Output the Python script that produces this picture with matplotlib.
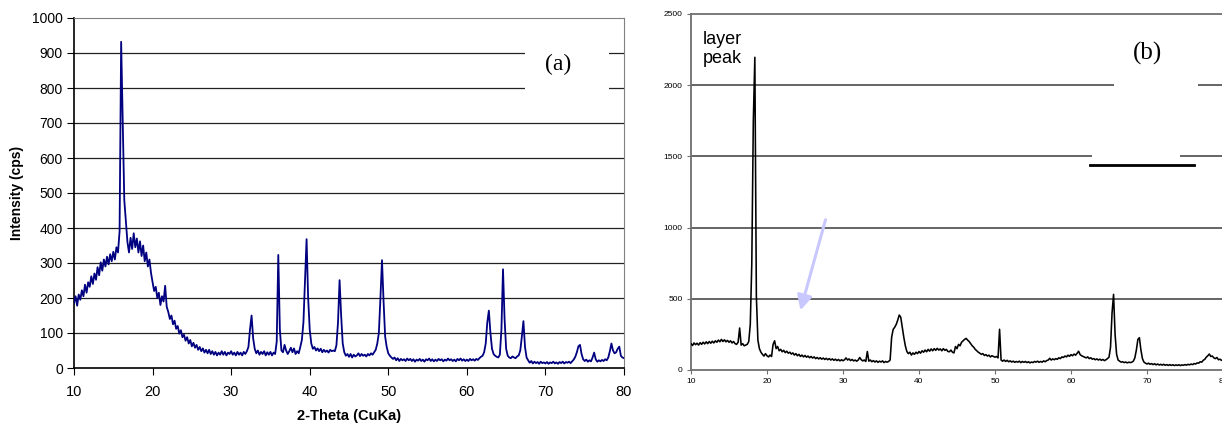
import matplotlib
matplotlib.use("Agg")
import matplotlib.pyplot as plt
import numpy as np
from matplotlib.patches import Rectangle

# scan grid: 10-80 deg 2-theta, step 0.2 deg (351 points)
theta = np.linspace(10, 80, 351)

# (a) intensity, cps  -- five values per degree
counts_a = [
    185, 205, 178, 210, 195, 222, 205, 238, 215, 245,   # 10-11
    232, 262, 240, 270, 252, 288, 265, 302, 278, 310,   # 12-13
    290, 318, 296, 325, 305, 332, 310, 345, 330, 390,   # 14-15
    932, 700, 480, 420, 360, 330, 372, 340, 385, 345,   # 16-17
    370, 330, 362, 320, 350, 305, 330, 290, 310, 272,   # 18-19
    245, 220, 232, 200, 215, 180, 205, 190, 235, 175,   # 20-21
    160, 140, 150, 125, 135, 112, 120, 98, 108, 88,     # 22-23
    95, 78, 88, 70, 80, 62, 72, 58, 66, 52,             # 24-25
    60, 48, 56, 44, 52, 42, 52, 40, 48, 38,             # 26-27
    46, 36, 44, 38, 48, 38, 46, 36, 44, 40,             # 28-29
    48, 38, 44, 36, 46, 38, 44, 36, 46, 40,             # 30-31
    48, 60, 110, 150, 85, 55, 42, 50, 38, 46,           # 32-33
    40, 48, 36, 45, 38, 46, 36, 44, 40, 75,             # 34-35
    323, 110, 50, 45, 66, 50, 40, 48, 58, 45,           # 36-37
    56, 40, 48, 42, 60, 80, 130, 250, 368, 200,         # 38-39
    110, 70, 55, 60, 50, 56, 48, 55, 45, 52,            # 40-41
    46, 50, 44, 52, 48, 50, 48, 65, 130, 251,           # 42-43
    150, 70, 45, 35, 40, 32, 40, 30, 38, 33,            # 44-45
    36, 42, 34, 40, 35, 38, 33, 40, 36, 42,             # 46-47
    38, 45, 52, 70, 100, 200, 308, 190, 90, 60,         # 48-49
    42, 35, 30, 26, 30, 22, 28, 20, 26, 22,             # 50-51
    25, 20, 27, 22, 26, 20, 25, 18, 24, 21,             # 52-53
    26, 20, 24, 18, 25, 22, 27, 20, 25, 19,             # 54-55
    24, 20, 26, 22, 25, 19, 24, 21, 27, 22,             # 56-57
    25, 20, 24, 19, 26, 22, 27, 21, 25, 20,             # 58-59
    24, 20, 26, 22, 25, 21, 26, 23, 28, 32,             # 60-61
    35, 45, 70, 130, 164, 100, 55, 40, 35, 32,          # 62-63
    30, 38, 110, 282, 140, 55, 35, 30, 28, 33,          # 64-65
    30, 28, 33, 36, 50, 90, 134, 60, 30, 22,            # 66-67
    15, 20, 13, 18, 14, 17, 12, 18, 14, 16,             # 68-69
    13, 17, 12, 16, 14, 18, 13, 16, 12, 17,             # 70-71
    14, 18, 13, 17, 15, 18, 14, 19, 24, 32,             # 72-73
    45, 62, 66, 40, 25, 20, 24, 18, 22, 19,             # 74-75
    30, 44, 25, 18, 22, 19, 23, 20, 25, 22,             # 76-77
    30, 48, 70, 50, 42, 45, 55, 61, 35, 30,             # 78-79
    28,
]

# (b) intensity -- same grid
counts_b = [
    185, 172, 190, 178, 188, 175, 192, 180, 195, 183,   # 10-11
    198, 185, 200, 188, 202, 190, 205, 195, 210, 198,   # 12-13
    215, 200, 212, 198, 208, 195, 205, 190, 200, 185,   # 14-15
    180, 195, 295, 175, 185, 170, 175, 180, 200, 320,   # 16-17
    750, 1750, 2196, 520, 210, 150, 125, 110, 98, 115,  # 18-19
    100, 92, 105, 95, 180, 205, 150, 165, 135, 145,     # 20-21
    128, 138, 122, 132, 118, 125, 112, 120, 105, 115,   # 22-23
    100, 110, 95, 105, 92, 102, 90, 98, 86, 95,         # 24-25
    84, 92, 80, 88, 78, 86, 76, 84, 74, 82,             # 26-27
    72, 80, 70, 78, 68, 76, 66, 74, 64, 72,             # 28-29
    65, 72, 85, 70, 78, 66, 74, 64, 70, 62,             # 30-31
    70, 88, 72, 64, 70, 60, 130, 62, 70, 58,            # 32-33
    66, 56, 64, 54, 62, 56, 64, 52, 60, 55,             # 34-35
    60, 70, 230, 285, 300, 320, 350, 386, 370, 300,     # 36-37
    230, 170, 130, 115, 125, 105, 120, 110, 125, 115,   # 38-39
    130, 118, 135, 125, 140, 128, 145, 132, 148, 135,   # 40-41
    150, 138, 152, 140, 148, 135, 150, 138, 145, 130,   # 42-43
    128, 140, 125, 120, 165, 150, 180, 170, 195, 205,   # 44-45
    215, 222, 210, 200, 185, 170, 160, 145, 135, 125,   # 46-47
    118, 110, 115, 102, 108, 98, 104, 92, 100, 95,      # 48-49
    90, 95, 85, 286, 70, 62, 70, 60, 68, 58,            # 50-51
    64, 56, 62, 54, 60, 55, 62, 52, 60, 54,             # 52-53
    60, 52, 58, 50, 56, 52, 60, 55, 62, 54,             # 54-55
    60, 55, 64, 58, 66, 70, 82, 70, 78, 72,             # 56-57
    80, 75, 86, 80, 92, 88, 98, 92, 104, 96,            # 58-59
    108, 100, 112, 104, 117, 132, 108, 100, 95, 90,     # 60-61
    85, 92, 80, 86, 76, 80, 72, 78, 70, 76,             # 62-63
    68, 74, 66, 72, 80, 90, 160, 400, 531, 250,         # 64-65
    110, 70, 62, 55, 58, 52, 56, 50, 55, 52,            # 66-67
    55, 62, 85, 140, 215, 227, 140, 80, 55, 48,         # 68-69
    42, 48, 40, 45, 38, 44, 36, 42, 35, 40,             # 70-71
    34, 40, 33, 38, 32, 38, 32, 37, 31, 36,             # 72-73
    32, 37, 31, 36, 33, 38, 34, 40, 36, 42,             # 74-75
    38, 45, 42, 50, 48, 58, 55, 68, 75, 90,             # 76-77
    100, 112, 95, 98, 85, 80, 88, 72, 76, 68,           # 78-79
    70,
]

x_ticks = [10, 20, 30, 40, 50, 60, 70, 80]
y_ticks_a = list(range(0, 1001, 100))
y_ticks_b = list(range(0, 2501, 500))

fig = plt.figure(figsize=(12.22, 4.25), dpi=100)
plt.rcParams["font.family"] = ["Liberation Sans", "DejaVu Sans"]

# ---- panel (a) ----
ax1 = fig.add_axes([74 / 1222, 57 / 425, 550 / 1222, 350 / 425])
ax1.plot(theta, counts_a, color="#000080", linewidth=1.3, zorder=3)
ax1.set_xlim(10, 80)
ax1.set_ylim(0, 1000)
ax1.set_xticks(x_ticks)
ax1.set_yticks(y_ticks_a)
for v in y_ticks_a[1:-1]:
    ax1.axhline(v, color="#222222", linewidth=0.9, zorder=1)
ax1.spines["top"].set_color("#808080")
ax1.spines["right"].set_color("#808080")
ax1.spines["left"].set_linewidth(1.2)
ax1.spines["bottom"].set_linewidth(1.2)
ax1.tick_params(axis="y", direction="out", length=5, labelsize=10, pad=3)
ax1.tick_params(axis="x", direction="out", length=5, labelsize=10.5, pad=7)
ax1.add_patch(Rectangle((67.4, 775), 10.7, 150, facecolor="white",
                        edgecolor="none", zorder=2))
ax1.text(71.6, 868, "(a)", family="Liberation Serif", fontsize=17,
         ha="center", va="center", zorder=4)
fig.text(17 / 1222, 1 - 193 / 425, "Intensity (cps)", rotation=90,
         fontsize=10, fontweight="bold", ha="center", va="center")
fig.text(349 / 1222, 1 - 416 / 425, "2-Theta (CuKa)",
         fontsize=10.5, fontweight="bold", ha="center", va="center")

# ---- panel (b) ----
ax2 = fig.add_axes([691 / 1222, 55 / 425, 532 / 1222, 356 / 425])
ax2.plot(theta, counts_b, color="black", linewidth=1.15, zorder=3)
ax2.set_xlim(10, 80)
ax2.set_ylim(0, 2500)
ax2.set_xticks(x_ticks)
ax2.set_yticks(y_ticks_b)
for v in y_ticks_b[1:-1]:
    ax2.axhline(v, color="#3a3a3a", linewidth=1.1, zorder=1)
for s in ["top", "left", "bottom"]:
    ax2.spines[s].set_color("#707070")
    ax2.spines[s].set_linewidth(1.3)
ax2.spines["right"].set_visible(False)
ax2.tick_params(direction="out", length=3, labelsize=6, pad=3,
                color="#707070")
ax2.add_patch(Rectangle((65.7, 1880), 11.0, 540, facecolor="white",
                        edgecolor="none", zorder=2))
ax2.add_patch(Rectangle((62.8, 1460), 11.5, 140, facecolor="white",
                        edgecolor="none", zorder=2))
ax2.plot([62.5, 76.2], [1440, 1440], color="black", linewidth=2.0, zorder=4)
ax2.text(70.1, 2226, "(b)", family="Liberation Serif", fontsize=18,
         ha="center", va="center", zorder=4)
ax2.text(11.6, 2380, "layer\npeak", fontsize=13, ha="left", va="top",
         linespacing=1.15, zorder=4)
ax2.annotate("", xy=(24.3, 400), xytext=(27.8, 1074),
             arrowprops=dict(arrowstyle="-|>", color="#c8c8ff", lw=2.2,
                             mutation_scale=22), zorder=4)

fig.savefig("out.png", dpi=100)
